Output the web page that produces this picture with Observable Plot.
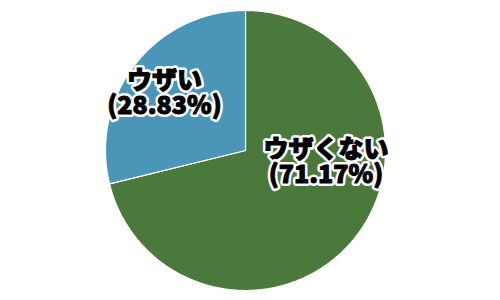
<!DOCTYPE html>
<html>
<head>
<meta charset="utf-8">
<script src="https://cdn.jsdelivr.net/npm/d3@7"></script>
<script src="https://cdn.jsdelivr.net/npm/@observablehq/plot@0.6"></script>
<style>
  html, body { margin: 0; padding: 0; background: #fff; }
</style>
</head>
<body>
<div id="chart"></div>
<script>
// Survey answers and their shares (percent)
const categories = ["ウザくない", "ウザい"];
const shares = [71.17, 28.83];
const colors = ["#4a793b", "#4a96b8"];

const W = 500, H = 300;
const R = 140;            // pie radius in pixels
const cx = 245, cy = 150; // pie centre in pixels

// Slices run clockwise from 12 o'clock
const total = d3.sum(shares);
let acc = 0;
const slices = categories.map((name, i) => {
  const a0 = acc / total * 2 * Math.PI;
  acc += shares[i];
  const a1 = acc / total * 2 * Math.PI;
  return {name, share: shares[i], a0, a1};
});

// Outline of each slice in unit-radius coordinates
const outline = [];
for (const s of slices) {
  outline.push({name: s.name, x: 0, y: 0});
  const n = Math.max(2, Math.ceil((s.a1 - s.a0) / 0.01));
  for (let k = 0; k <= n; ++k) {
    const a = s.a0 + (s.a1 - s.a0) * k / n;
    outline.push({name: s.name, x: Math.sin(a), y: Math.cos(a)});
  }
  outline.push({name: s.name, x: 0, y: 0});
}

// Label anchors: angle (fraction of the turn) and radius (fraction of R)
const labelAt = {"ウザくない": [0.2745, 0.582], "ウザい": [0.8475, 0.707]};
const labels = slices.map(s => {
  const [f, r] = labelAt[s.name];
  const a = f * 2 * Math.PI;
  return {
    name: s.name,
    pct: `(${s.share.toFixed(2)}%)`,
    x: r * Math.sin(a),
    y: r * Math.cos(a)
  };
});

const font = {fontSize: 25, fontWeight: 900};
const gap = 12.5; // half the distance between the two label lines

// Each label line: white halo underneath, then black glyphs with a thin black edge
function labelLine(text, dy) {
  return [
    Plot.text(labels, {x: "x", y: "y", text, dy, ...font, fill: "#fff", stroke: "#fff", strokeWidth: 6, strokeLinejoin: "round"}),
    Plot.text(labels, {x: "x", y: "y", text, dy, ...font, fill: "#000", stroke: "#000", strokeWidth: 1, strokeLinejoin: "round"})
  ];
}

const chart = Plot.plot({
  width: W,
  height: H,
  margin: 0,
  x: {domain: [-cx / R, (W - cx) / R], axis: null},
  y: {domain: [-(H - cy) / R, cy / R], axis: null},
  color: {domain: categories, range: colors},
  style: {fontFamily: "'Noto Sans CJK JP', sans-serif", background: "#fff"},
  marks: [
    Plot.line(outline, {x: "x", y: "y", z: "name", fill: "name", stroke: "#fff", strokeWidth: 1.2, curve: "linear"}),
    ...labelLine("name", -gap),
    ...labelLine("pct", gap)
  ]
});

document.getElementById("chart").appendChild(chart);
</script>
</body>
</html>
